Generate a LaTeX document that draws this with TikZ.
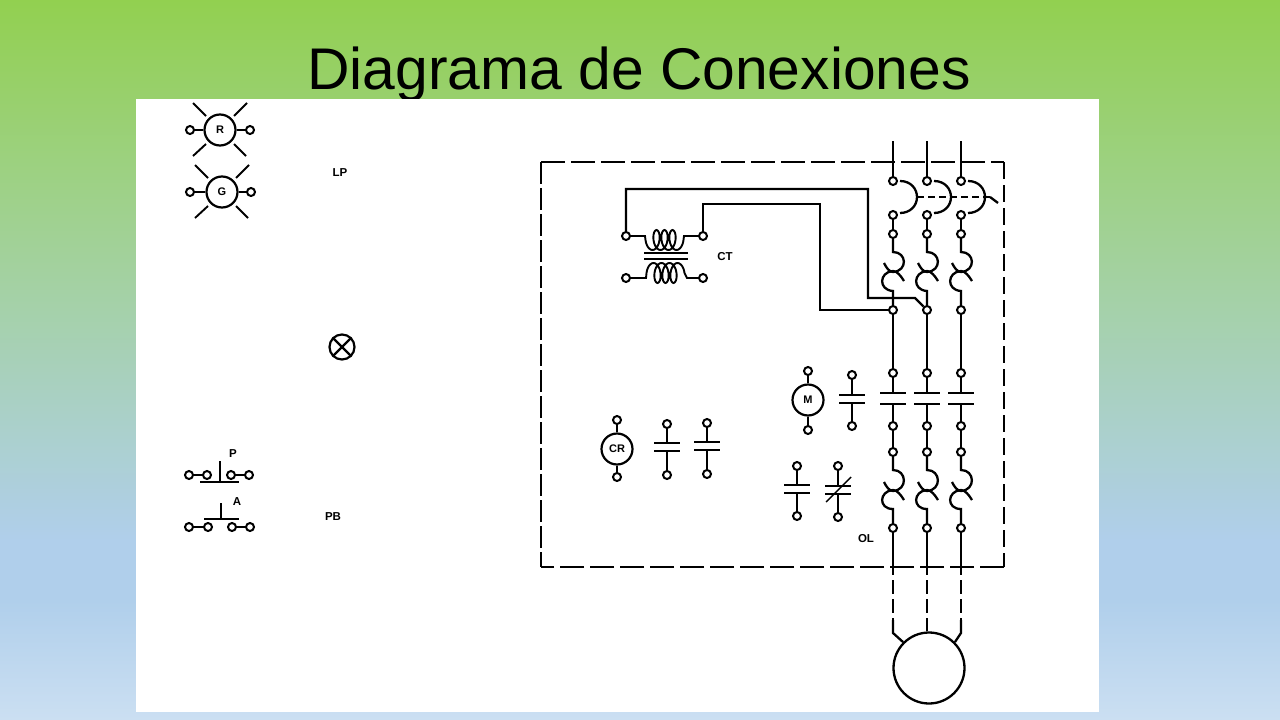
\documentclass[tikz,border=0pt]{standalone}
\usepackage{fontspec}
\setmainfont{Liberation Sans}
\usetikzlibrary{positioning}
\definecolor{bgtop}{HTML}{92D050}
\definecolor{bgmid}{HTML}{A3D19F}
\definecolor{bgblue}{HTML}{B0CFEB}
\definecolor{bgend}{HTML}{CBDFF2}
\tikzstyle{wire}  = [line width=2.3pt]
\tikzstyle{thin}  = [line width=1.9pt]
\tikzstyle{term}  = [circle, draw, line width=2pt, fill=white, inner sep=0pt, minimum size=8pt]
\tikzstyle{coilc} = [circle, draw, line width=2.2pt, inner sep=0pt, minimum size=31pt, font=\fontsize{11}{11}\selectfont\bfseries]
\tikzstyle{tag}   = [inner sep=0pt, font=\fontsize{11.5}{11.5}\selectfont\bfseries]
\tikzstyle{hdash} = [line width=2.3pt, dash pattern=on 24pt off 6pt]
\tikzstyle{vdash} = [line width=2.3pt, dash pattern=on 17pt off 6pt]
\tikzstyle{ldash} = [line width=2.3pt, dash pattern=on 22pt off 4pt]
\tikzstyle{mdash} = [line width=2.3pt, dash pattern=on 14pt off 5pt]

\begin{document}
\begin{tikzpicture}[x=1pt, y=-1pt]
    \useasboundingbox (0,0) rectangle (1280,720);
    \shade [top color=bgtop, bottom color=bgmid] (0,0) rectangle (1280,270);
    \shade [top color=bgmid, bottom color=bgblue] (0,270) rectangle (1280,540);
    \fill [bgblue] (0,540) rectangle (1280,600);
    \shade [top color=bgblue, bottom color=bgend] (0,600) rectangle (1280,720);

    \node (title) at (639, 89) [anchor=base, inner sep=0pt, font=\fontsize{58.8}{60}\selectfont] {Diagrama de Conexiones};
    \fill [white] (136,99) rectangle (1099,712);

    % dashed enclosure
    \coordinate (boxa) at (541,162);
    \coordinate (boxb) at (1004,162);
    \coordinate (boxc) at (1004,567);
    \coordinate (boxd) at (541,567);
    \draw [hdash] (boxa) -- (boxb);
    \draw [vdash] (boxb) -- (boxc);
    \draw [hdash] (boxc) -- (boxd);
    \draw [ldash] (boxa) -- (boxd);

    % lamps
    \node (lampr) at (220, 130) [coilc] {R};
    \node (lampg) at (222, 192) [coilc] {G};
    \node (rl) at (190, 130) [term] {};
    \node (rr) at (250, 130) [term] {};
    \node (gl) at (190, 192) [term] {};
    \node (gr) at (251, 192) [term] {};
    \draw [thin] (rl) -- (lampr);
    \draw [thin] (lampr) -- (rr);
    \draw [thin] (gl) -- (lampg);
    \draw [thin] (lampg) -- (gr);
    \foreach \cx/\cy in {220/130, 222/192} {
        \draw [thin] ({\cx-27},{\cy-27}) -- ({\cx-14},{\cy-14});
        \draw [thin] ({\cx+14},{\cy-14}) -- ({\cx+27},{\cy-27});
        \draw [thin] ({\cx-27},{\cy+26}) -- ({\cx-14},{\cy+14});
        \draw [thin] ({\cx+14},{\cy+14}) -- ({\cx+26},{\cy+26});
    }
    \node (lp) at (340, 173) [tag] {LP};

    % pilot lamp
    \node (pilot) at (342, 347) [circle, draw, line width=2.2pt, inner sep=0pt, minimum size=25pt] {};
    \draw [wire] (pilot.45) -- (pilot.225);
    \draw [wire] (pilot.135) -- (pilot.315);

    % push buttons
    \node (pa) at (189, 475) [term] {};
    \node (pb) at (207, 475) [term] {};
    \node (pc) at (231, 475) [term] {};
    \node (pd) at (249, 475) [term] {};
    \node (aa) at (189, 527) [term] {};
    \node (ab) at (208, 527) [term] {};
    \node (ac) at (232, 527) [term] {};
    \node (ad) at (250, 527) [term] {};
    \draw [thin] (pa) -- (pb);
    \draw [thin] (pc) -- (pd);
    \draw [thin] (aa) -- (ab);
    \draw [thin] (ac) -- (ad);
    \draw [wire] (200,482) -- (239,482);
    \draw [thin] (220,461) -- (220,482);
    \draw [wire] (204,519) -- (239,519);
    \draw [thin] (221,503) -- (221,519);
    \node (ptag) at (233, 454) [tag] {P};
    \node (atag) at (237, 502) [tag] {A};
    \node (pbtag) at (333, 517) [tag] {PB};

    % control transformer
    \node (cta) at (626, 236) [term] {};
    \node (ctb) at (703, 236) [term] {};
    \node (ctc) at (626, 278) [term] {};
    \node (ctd) at (703, 278) [term] {};
    \draw [thin] (cta) -- (645,236)
        -- plot [smooth, domain=-90:1170, samples=85, variable=\ang] ({652.5+8*\ang/360+5*sin(\ang)},{240+10*cos(\ang)})
        -- (684,236) -- (ctb);
    \draw [thin] (ctc) -- (646,278)
        -- plot [smooth, domain=-90:1170, samples=85, variable=\ang] ({653.5+8*\ang/360+5*sin(\ang)},{273-10*cos(\ang)})
        -- (687,278) -- (ctd);
    \draw [thin] (644,253) -- (688,253);
    \draw [thin] (644,259) -- (688,259);
    \node (cttag) at (725, 257) [tag] {CT};

    % coils and contacts
    \node (coilm) at (808, 400) [coilc] {M};
    \node (ma) at (808, 371) [term] {};
    \node (mb) at (808, 430) [term] {};
    \draw [thin] (ma) -- (coilm);
    \draw [thin] (coilm) -- (mb);
    \node (coilcr) at (617, 449) [coilc] {CR};
    \node (cra) at (617, 420) [term] {};
    \node (crb) at (617, 477) [term] {};
    \draw [thin] (cra) -- (coilcr);
    \draw [thin] (coilcr) -- (crb);
    \foreach \n/\cx/\ta/\ba/\bb/\tb in {ka/852/375/395/403/426, kb/667/424/443/451/475, kc/707/423/442/450/474, kd/797/466/485/493/516, ke/838/466/486/494/517} {
        \node (\n t) at (\cx, \ta) [term] {};
        \node (\n b) at (\cx, \tb) [term] {};
        \coordinate (\n u) at (\cx, \ba);
        \coordinate (\n l) at (\cx, \bb);
        \draw [thin] (\n t) -- (\n u);
        \draw [thin] (\n l) -- (\n b);
        \draw [thin] ({\cx-13},\ba) -- ({\cx+13},\ba);
        \draw [thin] ({\cx-13},\bb) -- ({\cx+13},\bb);
    }
    \draw [line width=1.4pt] (826,502) -- (851,477);
    \node (oltag) at (866, 539) [tag] {OL};

    % motor
    \node (motor) at (929, 668) [circle, draw, line width=2.3pt, inner sep=0pt, minimum size=71pt] {};

    % power columns
    \foreach \n/\cx in {a/893, b/927, c/961} {
        \coordinate (top\n) at (\cx, 141);
        \node (br\n) at (\cx, 181) [term] {};
        \node (bs\n) at (\cx, 215) [term] {};
        \node (fu\n) at (\cx, 234) [term] {};
        \node (fv\n) at (\cx, 310) [term] {};
        \node (ko\n) at (\cx, 373) [term] {};
        \node (kp\n) at (\cx, 426) [term] {};
        \node (ol\n) at (\cx, 452) [term] {};
        \node (om\n) at (\cx, 528) [term] {};
        \coordinate (low\n) at (\cx, 575);
        \coordinate (dsh\n) at (\cx, 580);
        \draw [wire] (top\n) -- (br\n);
        \draw [wire] (bs\n) -- (fu\n);
        \draw [wire] ({\cx+7},181) .. controls ({\cx+18},181) and ({\cx+24},189) .. ({\cx+24},197)
            .. controls ({\cx+24},206) and ({\cx+17},213) .. ({\cx+7},213);
        \draw [wire] (fu\n) -- (\cx,252)
            .. controls ({\cx+14},252) and ({\cx+15},271) .. (\cx,272)
            .. controls ({\cx-4},272) and ({\cx-7},267) .. ({\cx-9},263);
        \draw [wire] ({\cx+11},281) .. controls ({\cx+8},276) and ({\cx+4},271) .. (\cx,271)
            .. controls ({\cx-14},272) and ({\cx-15},290) .. (\cx,291) -- (fv\n);
        \draw [wire] (fv\n) -- (ko\n);
        \draw [wire] (ko\n) -- (\cx,393);
        \draw [wire] ({\cx-13},393) -- ({\cx+13},393);
        \draw [wire] ({\cx-13},404) -- ({\cx+13},404);
        \draw [wire] (\cx,404) -- (kp\n);
        \draw [wire] (kp\n) -- (ol\n);
        \draw [wire] (ol\n) -- (\cx,470)
            .. controls ({\cx+14},470) and ({\cx+15},490) .. (\cx,491)
            .. controls ({\cx-4},491) and ({\cx-7},486) .. ({\cx-9},482);
        \draw [wire] ({\cx+11},500) .. controls ({\cx+8},495) and ({\cx+4},490) .. (\cx,490)
            .. controls ({\cx-14},491) and ({\cx-15},509) .. (\cx,509) -- (om\n);
        \draw [wire] (om\n) -- (low\n);
    }
    \draw [line width=2pt, dash pattern=on 7pt off 4pt] (917,197) -- (990,197);
    \draw [wire] (990,197) -- (998,203);

    % motor leads
    \coordinate (lega) at (893, 620);
    \coordinate (legc) at (961, 620);
    \draw [mdash] (dsha) -- (lega);
    \draw [mdash] (dshc) -- (legc);
    \draw [mdash] (dshb) -- (motor.north -| dshb);
    \draw [wire] (lega) -- (893,633) -- (motor.135);
    \draw [wire] (legc) -- (961,633) -- (motor.45);

    % wires to the transformer
    \draw [wire] (cta) -- (626,189) -- (868,189) -- (868,298) -- (915,298) -- (fvb);
    \draw [wire] (ctb) -- (703,204) -- (820,204) -- (820,310) -- (fva);
\end{tikzpicture}
\end{document}
